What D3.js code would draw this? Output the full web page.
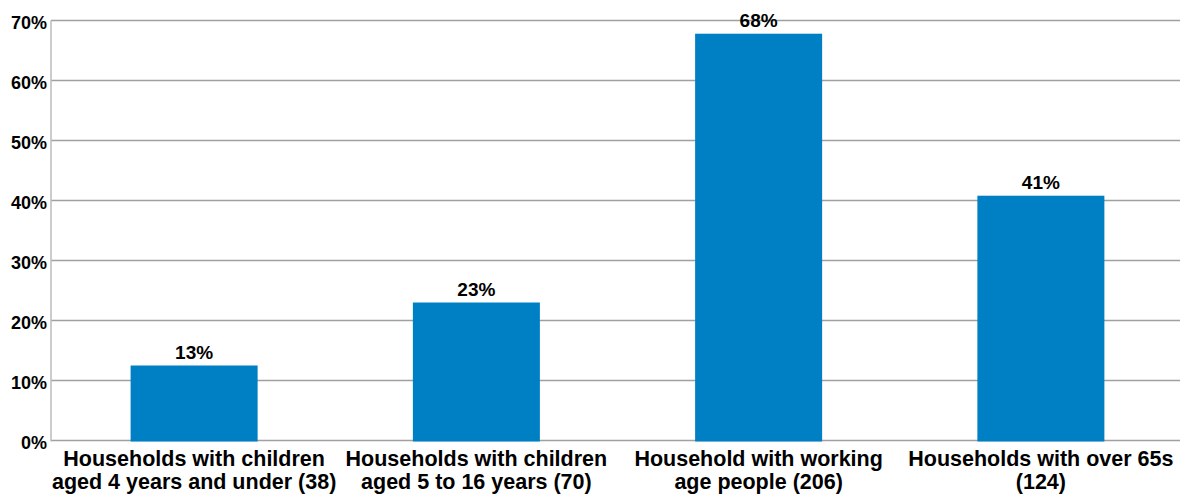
<!DOCTYPE html>
<html><head><meta charset="utf-8">
<script src="https://d3js.org/d3.v7.min.js"></script>
<style>body{margin:0;background:#fff}svg{display:block}text{font-family:"Liberation Sans",Arial,sans-serif;font-weight:bold;fill:#000}</style>
</head><body>
<script>
const categories = [
  ["Households with children", "aged 4 years and under (38)"],
  ["Households with children", "aged 5 to 16 years (70)"],
  ["Household with working", "age people (206)"],
  ["Households with over 65s", "(124)"]
];
const values = [12.5, 23, 67.8, 40.8];
const valueLabels = ["13%", "23%", "68%", "41%"];
const yTicks = [0, 10, 20, 30, 40, 50, 60, 70];

const W = 1184, H = 501;
const svg = d3.select("body").append("svg").attr("width", W).attr("height", H);
const x = d3.scaleBand().domain(d3.range(categories.length)).range([53, 1182]).paddingInner(0.55).paddingOuter(0.275);
const y = d3.scaleLinear().domain([0, 70]).range([440.5, 20.5]);

// gridlines
svg.append("g").selectAll("line").data(yTicks).join("line")
  .attr("x1", 51).attr("x2", 1180).attr("y1", d => y(d)).attr("y2", d => y(d))
  .attr("stroke", "#a0a0a0").attr("stroke-width", 1.5);
// left axis
svg.append("line").attr("x1", 51).attr("x2", 51).attr("y1", y(70)).attr("y2", y(0)+1)
  .attr("stroke", "#bbb").attr("stroke-width", 1.5);
// tick labels
svg.append("g").selectAll("text").data(yTicks).join("text")
  .attr("x", 47).attr("y", d => y(d) + 8).attr("text-anchor", "end")
  .style("font-size", "18px").text(d => d + "%");

// bars
svg.append("g").selectAll("rect").data(values).join("rect")
  .attr("x", (d, i) => x(i)).attr("width", x.bandwidth())
  .attr("y", d => y(d)).attr("height", d => y(0) - y(d) + 1)
  .attr("fill", "#0080c4");
// value labels
svg.append("g").selectAll("text").data(values).join("text")
  .attr("x", (d, i) => x(i) + x.bandwidth() / 2).attr("y", d => y(d) - 7)
  .attr("text-anchor", "middle").style("font-size", "19px").text((d, i) => valueLabels[i]);
// category labels
const cg = svg.append("g").selectAll("text").data(categories).join("text")
  .attr("text-anchor", "middle").style("font-size", "21.5px");
cg.each(function(d, i) {
  const t = d3.select(this);
  d.forEach((line, j) => {
    t.append("tspan").attr("x", x(i) + x.bandwidth() / 2).attr("y", 466 + j * 23).text(line);
  });
});
</script>
</body></html>
